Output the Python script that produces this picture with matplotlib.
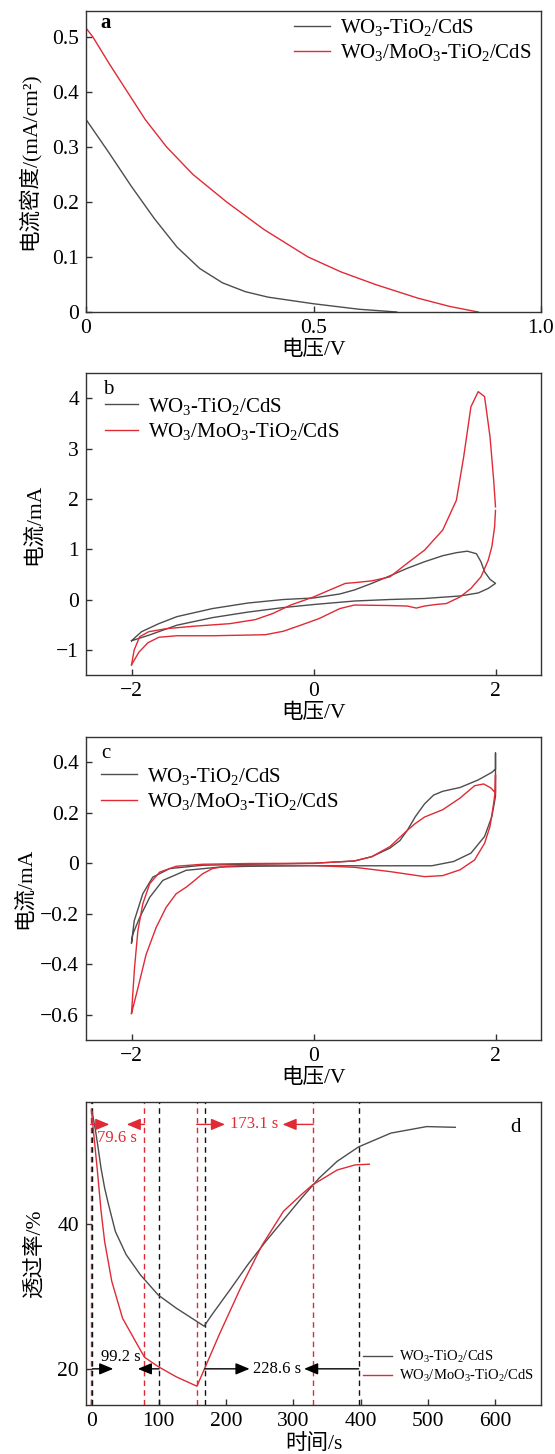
import matplotlib
matplotlib.use("Agg")
import matplotlib.pyplot as plt

plt.rcParams['font.family'] = ['Liberation Serif', 'Noto Sans CJK SC', 'DejaVu Sans']
plt.rcParams['mathtext.fontset'] = 'custom'
plt.rcParams['mathtext.rm'] = 'Liberation Serif'
plt.rcParams['mathtext.it'] = 'Liberation Serif:italic'
plt.rcParams['font.size'] = 15.5

GRAY = '#4d4d4d'
RED = '#e02a35'

lbl_a = r'WO$_3$-TiO$_2$/CdS'
lbl_b = r'WO$_3$/MoO$_3$-TiO$_2$/CdS'

# ---- panel a : LSV
va_k = [0, 0.05, 0.1, 0.15, 0.2, 0.25, 0.3, 0.35, 0.4, 0.45, 0.5, 0.55, 0.6, 0.65, 0.683]
ia_k = [0.35, 0.29, 0.228, 0.17, 0.118, 0.079, 0.053, 0.037, 0.027, 0.021, 0.015, 0.010, 0.005, 0.002, 0.0]
va_r = [0, 0.015, 0.052, 0.091, 0.13, 0.177, 0.235, 0.309, 0.391, 0.488, 0.56, 0.636, 0.73, 0.8, 0.862]
ia_r = [0.516, 0.50, 0.45, 0.40, 0.35, 0.30, 0.25, 0.20, 0.15, 0.10, 0.073, 0.05, 0.025, 0.01, 0.0]

# ---- panel b : CV
vb_k = [-2.0, -1.89, -1.7, -1.5, -1.11, -0.72, -0.33, 0.0, 0.29, 0.45, 0.64, 0.84, 1.03, 1.22, 1.42,
        1.57, 1.69, 1.79, 1.84, 1.88, 1.94, 2.0, 1.92, 1.81, 1.61, 1.22, 0.84, 0.45, 0.0, -0.33,
        -0.72, -1.11, -1.5, -1.81, -2.0]
ib_k = [-0.82, -0.64, -0.48, -0.34, -0.18, -0.07, 0.0, 0.03, 0.11, 0.19, 0.32, 0.47, 0.62, 0.75, 0.87,
        0.93, 0.96, 0.91, 0.75, 0.55, 0.40, 0.32, 0.22, 0.13, 0.07, 0.02, 0.0, -0.03, -0.1, -0.16,
        -0.25, -0.36, -0.51, -0.71, -0.82]
vb_r1 = [-2.0, -1.97, -1.91, -1.81, -1.62, -1.31, -0.92, -0.64, -0.45, -0.25, 0.0, 0.18, 0.35, 0.48,
         0.64, 0.84, 1.03, 1.22, 1.42, 1.57, 1.65, 1.73, 1.81, 1.88, 1.94, 1.98, 2.0]
ib_r1 = [-1.3, -1.0, -0.74, -0.64, -0.58, -0.53, -0.48, -0.40, -0.28, -0.11, 0.05, 0.19, 0.32, 0.34,
         0.37, 0.45, 0.72, 0.98, 1.38, 1.97, 2.83, 3.83, 4.13, 4.03, 3.23, 2.37, 1.84]
vb_r2 = [2.0, 1.99, 1.96, 1.92, 1.84, 1.73, 1.61, 1.46, 1.34, 1.22, 1.13, 1.03, 0.84, 0.45, 0.29,
         0.06, -0.14, -0.33, -0.53, -1.11, -1.5, -1.7, -1.82, -1.92, -2.0]
ib_r2 = [1.77, 1.44, 1.05, 0.78, 0.45, 0.22, 0.05, -0.08, -0.1, -0.13, -0.17, -0.13, -0.12, -0.11, -0.18,
         -0.38, -0.51, -0.63, -0.70, -0.72, -0.72, -0.75, -0.86, -1.05, -1.3]

# ---- panel c : CV
vc_k = [-2.0, -1.97, -1.876, -1.766, -1.58, -1.22, -0.7, 0.0, 0.45, 0.64, 0.84, 0.95, 1.03, 1.12, 1.22,
        1.32, 1.42, 1.61, 1.81, 1.96, 2.0, 2.0, 2.0, 1.96, 1.88, 1.73, 1.54, 1.3, 0.84, 0.0, -0.7,
        -1.03, -1.40, -1.656, -1.80, -1.91, -1.985, -2.0]
ic_k = [-0.315, -0.228, -0.121, -0.055, -0.021, -0.008, -0.004, 0.0, 0.009, 0.026, 0.06, 0.09, 0.13,
        0.185, 0.235, 0.27, 0.285, 0.30, 0.33, 0.36, 0.373, 0.437, 0.265, 0.185, 0.106, 0.04, 0.007,
        -0.01, -0.01, -0.01, -0.012, -0.015, -0.028, -0.068, -0.135, -0.215, -0.28, -0.315]
vc_r = [-2.0, -1.967, -1.93, -1.876, -1.80, -1.69, -1.51, -1.22, -0.7, 0.0, 0.45, 0.64, 0.84, 1.03, 1.11,
        1.22, 1.42, 1.61, 1.77, 1.87, 1.95, 2.0, 2.0, 1.995, 1.98, 1.94, 1.88, 1.77, 1.61, 1.42, 1.22,
        0.84, 0.45, 0.0, -0.70, -0.96, -1.11, -1.22, -1.33, -1.40, -1.51, -1.62, -1.73, -1.84, -1.93, -2.0]
ic_r = [-0.595, -0.415, -0.268, -0.161, -0.081, -0.035, -0.012, -0.004, -0.001, 0.0, 0.009, 0.026, 0.066,
        0.13, 0.155, 0.183, 0.212, 0.258, 0.307, 0.314, 0.298, 0.278, 0.35, 0.28, 0.238, 0.146, 0.079,
        0.013, -0.026, -0.049, -0.053, -0.033, -0.016, -0.009, -0.008, -0.012, -0.021, -0.042, -0.075,
        -0.095, -0.121, -0.175, -0.255, -0.362, -0.495, -0.595]

# ---- panel d : transmittance vs time
td_k = [1.1, 6.4, 10.1, 14.4, 19.7, 25.0, 35.6, 51.6, 72.8, 99.4, 126.0, 152.6, 167.5, 179.2, 205.7,
        232.3, 258.9, 285.5, 312.1, 338.6, 365.2, 397.1, 445.0, 498.1, 540.7]
Td_k = [55.6, 52.8, 50.5, 47.7, 45.0, 42.9, 39.0, 35.8, 33.0, 30.2, 28.4, 26.8, 25.9, 27.5, 30.9,
        34.4, 37.6, 40.6, 43.6, 46.4, 48.7, 50.7, 52.6, 53.5, 53.4]
td_r = [0.0, 3.7, 9.0, 14.4, 19.7, 30.3, 46.3, 72.8, 79.0, 99.4, 126.0, 156.8, 168.5, 189.8, 221.7,
        253.6, 285.5, 312.1, 328.0, 365.2, 391.8, 413.0]
Td_r = [55.8, 52.3, 47.3, 41.8, 37.6, 32.1, 27.0, 22.6, 21.6, 20.3, 18.9, 17.6, 20.1, 24.7, 31.2,
        37.1, 41.8, 44.1, 45.4, 47.5, 48.2, 48.3]
red_marks = [-1.0, 78.6, 156.5, 329.6]
black_marks = [1.5, 100.7, 168.5, 397.1]

fig = plt.figure(figsize=(5.55, 14.54), dpi=100)
W, H = 555.0, 1454.0


def make_axes(top, bottom):
    return fig.add_axes([86 / W, (H - bottom) / H, 455 / W, (bottom - top) / H])


def style(ax):
    for s in ax.spines.values():
        s.set_color('#333333')
        s.set_linewidth(1.0)
    ax.tick_params(direction='in', length=4, width=1, top=False, right=False,
                   labelsize=15.5, pad=5, color='#333333')


def legend(ax, x, y, loc, fs, hl):
    ax.legend(loc=loc, bbox_to_anchor=(x, y), frameon=False, fontsize=fs, borderpad=0,
              handlelength=hl, handletextpad=0.45, labelspacing=0.2, borderaxespad=0)


# panel a
ax = make_axes(11, 312)
ax.plot(va_k, ia_k, color=GRAY, lw=1.0, label=lbl_a)
ax.plot(va_r, ia_r, color=RED, lw=1.0, label=lbl_b)
ax.set_xlim(0, 1.0)
ax.set_ylim(0, 0.547)
ax.set_xticks([0, 0.5, 1.0], ['0', '0.5', '1.0'])
ax.set_yticks([0, 0.1, 0.2, 0.3, 0.4, 0.5], ['0', '0.1', '0.2', '0.3', '0.4', '0.5'])
ax.set_xlabel('电压/V', labelpad=2)
ax.set_ylabel('电流密度/(mA/cm²)', labelpad=9)
ax.text(0.044, 0.96, 'a', transform=ax.transAxes, fontsize=15, fontweight='bold', ha='center', va='center')
style(ax)
legend(ax, 0.457, 0.98, 'upper left', 15, 1.75)

# panel b
ax = make_axes(373, 675)
ax.plot(vb_k, ib_k, color=GRAY, lw=1.0, label=lbl_a)
ax.plot(vb_r1, ib_r1, color=RED, lw=1.0, label=lbl_b)
ax.plot(vb_r2, ib_r2, color=RED, lw=1.0)
ax.set_xlim(-2.5, 2.5)
ax.set_ylim(-1.5, 4.5)
ax.set_xticks([-2, 0, 2])
ax.set_yticks([-1, 0, 1, 2, 3, 4])
ax.set_xlabel('电压/V', labelpad=2)
ax.set_ylabel('电流/mA', labelpad=9)
ax.text(0.048, 0.944, 'b', transform=ax.transAxes, fontsize=15, ha='center', va='center')
style(ax)
legend(ax, 0.042, 0.925, 'upper left', 15, 1.6)

# panel c
ax = make_axes(737, 1040)
ax.plot(vc_k, ic_k, color=GRAY, lw=1.0, label=lbl_a)
ax.plot(vc_r, ic_r, color=RED, lw=1.0, label=lbl_b)
ax.set_xlim(-2.5, 2.5)
ax.set_ylim(-0.7, 0.5)
ax.set_xticks([-2, 0, 2])
ax.set_yticks([-0.6, -0.4, -0.2, 0, 0.2, 0.4], ['\u22120.6', '\u22120.4', '\u22120.2', '0', '0.2', '0.4'])
ax.set_xlabel('电压/V', labelpad=2)
ax.set_ylabel('电流/mA', labelpad=4)
ax.text(0.044, 0.944, 'c', transform=ax.transAxes, fontsize=15, ha='center', va='center')
style(ax)
legend(ax, 0.033, 0.905, 'upper left', 15, 1.75)

# panel d
ax = make_axes(1102, 1405)
for t in red_marks:
    ax.axvline(t, color=RED, lw=1.0, ls=(0, (4, 3)))
for t in black_marks:
    ax.axvline(t, color='#111111', lw=1.0, ls=(0, (4, 3)))
ax.plot(td_k, Td_k, color=GRAY, lw=1.0, label=lbl_a)
ax.plot(td_r, Td_r, color=RED, lw=1.0, label=lbl_b)


def arrow(ax, x0, x1, y, c):
    ax.annotate('', xy=(x1, y), xytext=(x0, y),
                arrowprops=dict(arrowstyle='-|>,head_length=0.6,head_width=0.25', color=c, lw=1.0,
                                mutation_scale=14, shrinkA=0, shrinkB=0))


arrow(ax, red_marks[0], 26.7, 53.8, RED)
arrow(ax, red_marks[1], 52.5, 53.8, RED)
ax.text(38.5, 51.9, '79.6 s', color=RED, fontsize=12, ha='center', va='center')
arrow(ax, red_marks[2], 198.5, 53.8, RED)
arrow(ax, red_marks[3], 284, 53.8, RED)
ax.text(242, 53.8, '173.1 s', color=RED, fontsize=12, ha='center', va='center')
arrow(ax, black_marks[0], 32.5, 20, 'black')
arrow(ax, black_marks[1], 69, 20, 'black')
ax.text(44, 21.6, '99.2 s', color='black', fontsize=12, ha='center', va='center')
arrow(ax, black_marks[2], 235, 20, 'black')
arrow(ax, black_marks[3], 316, 20, 'black')
ax.text(275.5, 20, '228.6 s', color='black', fontsize=12, ha='center', va='center')

ax.set_xlim(-8, 668)
ax.set_ylim(15, 56.9)
ax.set_xticks([0, 100, 200, 300, 400, 500, 600])
ax.set_yticks([20, 40])
ax.set_xlabel('时间/s', labelpad=2)
ax.set_ylabel('透过率/%', labelpad=9)
ax.text(0.943, 0.917, 'd', transform=ax.transAxes, fontsize=15, ha='center', va='center')
style(ax)
legend(ax, 0.609, 0.07, 'lower left', 10.5, 2.0)

fig.savefig('out.png', dpi=100)
